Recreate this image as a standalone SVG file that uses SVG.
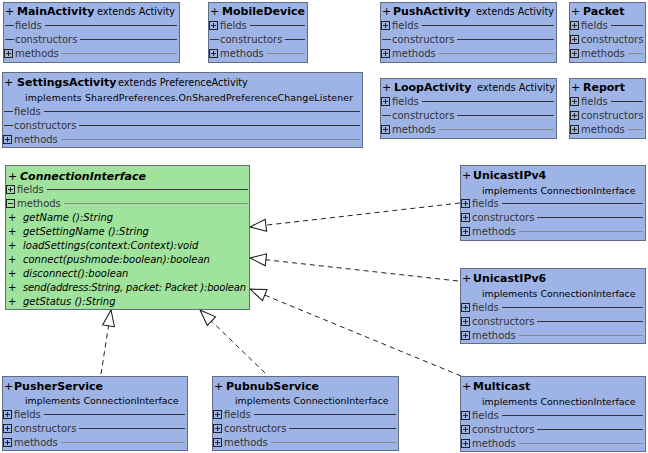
<svg xmlns="http://www.w3.org/2000/svg" xmlns:xlink="http://www.w3.org/1999/xlink" width="648" height="453" viewBox="0 0 648 453">
<style>
.box{fill:#9fb4e6;stroke:#646c84;stroke-width:1}
.grn{fill:#9fe39c;stroke:#646c84;stroke-width:1}
text{font-family:"DejaVu Sans","Liberation Sans",sans-serif;fill:#000}
.p{font-size:11px}
.t{font-size:11px;font-weight:bold}
.ti{font-size:11px;font-weight:bold;font-style:italic}
.s{font-size:9.7px}
.im{font-size:9.4px}
.r{font-size:10px;fill:#333}
.mi{font-size:10px;font-style:italic}
.mp{font-size:10px}
.d{stroke:#333;stroke-width:1}
.l{stroke:#333;stroke-width:1}
.l2{stroke:#8a8a8a;stroke-width:1}
.c{fill:none;stroke:#222;stroke-width:1;stroke-dasharray:5 4}
</style>
<defs>
<symbol id="pl" viewBox="0 0 9 9" width="9" height="9"><rect x="0.5" y="0.5" width="8" height="8" fill="none" stroke="#222"/><path d="M2 4.5h5M4.5 2v5" stroke="#222"/></symbol>
<symbol id="mn" viewBox="0 0 9 9" width="9" height="9"><rect x="0.5" y="0.5" width="8" height="8" fill="none" stroke="#222"/><path d="M2 4.5h5" stroke="#222"/></symbol>
<marker id="tri" markerWidth="18" markerHeight="14" viewBox="0 0 18 14" refX="17" refY="7" orient="auto" markerUnits="userSpaceOnUse"><path d="M1,1 L17,7 L1,13 Z" fill="#fff" stroke="#111" stroke-dasharray="none"/></marker>
</defs>

<g id="connectors">
<line class="c" x1="460" y1="203" x2="250" y2="227" marker-end="url(#tri)"/>
<line class="c" x1="458" y1="281" x2="250" y2="258" marker-end="url(#tri)"/>
<line class="c" x1="461" y1="376" x2="250" y2="289" marker-end="url(#tri)"/>
<line class="c" x1="101" y1="374" x2="111" y2="310" marker-end="url(#tri)"/>
<line class="c" x1="265" y1="373" x2="200" y2="310" marker-end="url(#tri)"/>
</g>

<g id="MainActivity">
<rect class="box" x="3.5" y="2.5" width="176" height="60"/>
<text class="p" x="5" y="15">+</text><text class="t" x="17" y="15">MainActivity</text><text class="s" x="97" y="15">extends Activity</text>
<line class="d" x1="5" y1="25.5" x2="14" y2="25.5"/><text class="r" x="15" y="28.5">fields</text><line class="l" x1="45" y1="25.5" x2="177" y2="25.5"/>
<line class="d" x1="5" y1="39.5" x2="14" y2="39.5"/><text class="r" x="15" y="42.5">constructors</text><line class="l" x1="80" y1="39.5" x2="177" y2="39.5"/>
<use xlink:href="#pl" x="4" y="49"/><text class="r" x="15" y="56.5">methods</text><line class="l2" x1="62" y1="53.5" x2="177" y2="53.5"/>
</g>

<g id="MobileDevice">
<rect class="box" x="208.5" y="2.5" width="99" height="60"/>
<text class="p" x="210" y="15">+</text><text class="t" x="222" y="15">MobileDevice</text>
<use xlink:href="#pl" x="209" y="21"/><text class="r" x="220" y="28.5">fields</text><line class="l" x1="250" y1="25.5" x2="305" y2="25.5"/>
<line class="d" x1="210" y1="39.5" x2="219" y2="39.5"/><text class="r" x="220" y="42.5">constructors</text><line class="l" x1="285" y1="39.5" x2="305" y2="39.5"/>
<use xlink:href="#pl" x="209" y="49"/><text class="r" x="220" y="56.5">methods</text><line class="l2" x1="267" y1="53.5" x2="305" y2="53.5"/>
</g>

<g id="PushActivity">
<rect class="box" x="380.5" y="2.5" width="176" height="60"/>
<text class="p" x="382" y="15">+</text><text class="t" x="393" y="15">PushActivity</text><text class="s" x="476" y="15">extends Activity</text>
<use xlink:href="#pl" x="381" y="21"/><text class="r" x="392" y="28.5">fields</text><line class="l" x1="422" y1="25.5" x2="554" y2="25.5"/>
<line class="d" x1="382" y1="39.5" x2="391" y2="39.5"/><text class="r" x="392" y="42.5">constructors</text><line class="l" x1="457" y1="39.5" x2="554" y2="39.5"/>
<use xlink:href="#pl" x="381" y="49"/><text class="r" x="392" y="56.5">methods</text><line class="l2" x1="439" y1="53.5" x2="554" y2="53.5"/>
</g>

<g id="Packet">
<rect class="box" x="569.5" y="2.5" width="76" height="60"/>
<text class="p" x="571" y="15">+</text><text class="t" x="583" y="15">Packet</text>
<use xlink:href="#pl" x="570" y="21"/><text class="r" x="581" y="28.5">fields</text><line class="l" x1="611" y1="25.5" x2="643" y2="25.5"/>
<use xlink:href="#pl" x="570" y="35"/><text class="r" x="581" y="42.5">constructors</text>
<use xlink:href="#pl" x="570" y="49"/><text class="r" x="581" y="56.5">methods</text><line class="l2" x1="628" y1="53.5" x2="643" y2="53.5"/>
</g>

<g id="SettingsActivity">
<rect class="box" x="2.5" y="72.5" width="360" height="75"/>
<text class="p" x="4" y="86">+</text><text class="t" x="17" y="86">SettingsActivity</text><text class="s" x="118" y="86">extends PreferenceActivity</text>
<text class="im" x="25" y="100.5" textLength="328">implements SharedPreferences.OnSharedPreferenceChangeListener</text>
<line class="d" x1="4" y1="111.5" x2="13" y2="111.5"/><text class="r" x="14" y="114.5">fields</text><line class="l" x1="44" y1="111.5" x2="360" y2="111.5"/>
<line class="d" x1="4" y1="125.5" x2="13" y2="125.5"/><text class="r" x="14" y="128.5">constructors</text><line class="l" x1="79" y1="125.5" x2="360" y2="125.5"/>
<use xlink:href="#pl" x="3" y="135"/><text class="r" x="14" y="142.5">methods</text><line class="l2" x1="61" y1="139.5" x2="360" y2="139.5"/>
</g>

<g id="LoopActivity">
<rect class="box" x="380.5" y="78.5" width="176" height="60"/>
<text class="p" x="382" y="91">+</text><text class="t" x="394" y="91">LoopActivity</text><text class="s" x="477" y="91">extends Activity</text>
<use xlink:href="#pl" x="381" y="97"/><text class="r" x="392" y="104.5">fields</text><line class="l" x1="422" y1="101.5" x2="554" y2="101.5"/>
<line class="d" x1="382" y1="115.5" x2="391" y2="115.5"/><text class="r" x="392" y="118.5">constructors</text><line class="l" x1="457" y1="115.5" x2="554" y2="115.5"/>
<use xlink:href="#pl" x="381" y="125"/><text class="r" x="392" y="132.5">methods</text><line class="l2" x1="439" y1="129.5" x2="554" y2="129.5"/>
</g>

<g id="Report">
<rect class="box" x="569.5" y="78.5" width="76" height="60"/>
<text class="p" x="571" y="91">+</text><text class="t" x="583" y="91">Report</text>
<use xlink:href="#pl" x="570" y="97"/><text class="r" x="581" y="104.5">fields</text><line class="l" x1="611" y1="101.5" x2="643" y2="101.5"/>
<use xlink:href="#pl" x="570" y="111"/><text class="r" x="581" y="118.5">constructors</text>
<use xlink:href="#pl" x="570" y="125"/><text class="r" x="581" y="132.5">methods</text><line class="l2" x1="628" y1="129.5" x2="643" y2="129.5"/>
</g>

<g id="ConnectionInterface">
<rect class="grn" x="5.5" y="165.5" width="244" height="144"/>
<text class="p" x="8" y="179.5">+</text><text class="ti" x="20" y="179.5">ConnectionInterface</text>
<use xlink:href="#pl" x="6" y="185"/><text class="r" x="17" y="192.5">fields</text><line class="l" x1="47" y1="189.5" x2="248" y2="189.5"/>
<use xlink:href="#mn" x="6" y="199"/><text class="r" x="17" y="206.5">methods</text><line class="l2" x1="64" y1="203.5" x2="248" y2="203.5"/>
<text class="mp" x="8" y="220.5">+</text><text class="mi" x="23" y="220.5">getName ():String</text>
<text class="mp" x="8" y="234.5">+</text><text class="mi" x="23" y="234.5">getSettingName ():String</text>
<text class="mp" x="8" y="248.5">+</text><text class="mi" x="23" y="248.5">loadSettings(context:Context):void</text>
<text class="mp" x="8" y="262.5">+</text><text class="mi" x="23" y="262.5">connect(pushmode:boolean):boolean</text>
<text class="mp" x="8" y="276.5">+</text><text class="mi" x="23" y="276.5">disconnect():boolean</text>
<text class="mp" x="8" y="290.5">+</text><text class="mi" x="23" y="290.5" textLength="223">send(address:String, packet: Packet ):boolean</text>
<text class="mp" x="8" y="304.5">+</text><text class="mi" x="23" y="304.5">getStatus ():String</text>
</g>

<g id="UnicastIPv4">
<rect class="box" x="460.5" y="165.5" width="185" height="75"/>
<text class="p" x="462" y="179">+</text><text class="t" x="473" y="179">UnicastIPv4</text>
<text class="im" x="482" y="193.5">implements ConnectionInterface</text>
<use xlink:href="#pl" x="461" y="199"/><text class="r" x="472" y="206.5">fields</text><line class="l" x1="502" y1="203.5" x2="643" y2="203.5"/>
<use xlink:href="#pl" x="461" y="213"/><text class="r" x="472" y="220.5">constructors</text><line class="l" x1="537" y1="217.5" x2="643" y2="217.5"/>
<use xlink:href="#pl" x="461" y="227"/><text class="r" x="472" y="234.5">methods</text><line class="l2" x1="519" y1="231.5" x2="643" y2="231.5"/>
</g>

<g id="UnicastIPv6">
<rect class="box" x="460.5" y="268.5" width="185" height="75"/>
<text class="p" x="462" y="282">+</text><text class="t" x="473" y="282">UnicastIPv6</text>
<text class="im" x="482" y="296.5">implements ConnectionInterface</text>
<use xlink:href="#pl" x="461" y="303"/><text class="r" x="472" y="310.5">fields</text><line class="l" x1="502" y1="307.5" x2="643" y2="307.5"/>
<use xlink:href="#pl" x="461" y="317"/><text class="r" x="472" y="324.5">constructors</text><line class="l" x1="537" y1="321.5" x2="643" y2="321.5"/>
<use xlink:href="#pl" x="461" y="331"/><text class="r" x="472" y="338.5">methods</text><line class="l2" x1="519" y1="335.5" x2="643" y2="335.5"/>
</g>

<g id="Multicast">
<rect class="box" x="460.5" y="376.5" width="185" height="75"/>
<text class="p" x="462" y="390">+</text><text class="t" x="473" y="390">Multicast</text>
<text class="im" x="482" y="404.5">implements ConnectionInterface</text>
<use xlink:href="#pl" x="461" y="411"/><text class="r" x="472" y="418.5">fields</text><line class="l" x1="502" y1="415.5" x2="643" y2="415.5"/>
<use xlink:href="#pl" x="461" y="425"/><text class="r" x="472" y="432.5">constructors</text><line class="l" x1="537" y1="429.5" x2="643" y2="429.5"/>
<use xlink:href="#pl" x="461" y="439"/><text class="r" x="472" y="446.5">methods</text><line class="l2" x1="519" y1="443.5" x2="643" y2="443.5"/>
</g>

<g id="PusherService">
<rect class="box" x="2.5" y="376.5" width="185" height="74"/>
<text class="p" x="4" y="390">+</text><text class="t" x="14" y="390">PusherService</text>
<text class="im" x="25" y="404">implements ConnectionInterface</text>
<use xlink:href="#pl" x="3" y="410"/><text class="r" x="14" y="417.5">fields</text><line class="l" x1="44" y1="414.5" x2="185" y2="414.5"/>
<use xlink:href="#pl" x="3" y="424"/><text class="r" x="14" y="431.5">constructors</text><line class="l" x1="79" y1="428.5" x2="185" y2="428.5"/>
<use xlink:href="#pl" x="3" y="438"/><text class="r" x="14" y="445.5">methods</text><line class="l2" x1="61" y1="442.5" x2="185" y2="442.5"/>
</g>

<g id="PubnubService">
<rect class="box" x="212.5" y="376.5" width="186" height="74"/>
<text class="p" x="214" y="390">+</text><text class="t" x="226" y="390">PubnubService</text>
<text class="im" x="235" y="404">implements ConnectionInterface</text>
<use xlink:href="#pl" x="213" y="410"/><text class="r" x="224" y="417.5">fields</text><line class="l" x1="254" y1="414.5" x2="396" y2="414.5"/>
<use xlink:href="#pl" x="213" y="424"/><text class="r" x="224" y="431.5">constructors</text><line class="l" x1="289" y1="428.5" x2="396" y2="428.5"/>
<use xlink:href="#pl" x="213" y="438"/><text class="r" x="224" y="445.5">methods</text><line class="l2" x1="271" y1="442.5" x2="396" y2="442.5"/>
</g>
</svg>
